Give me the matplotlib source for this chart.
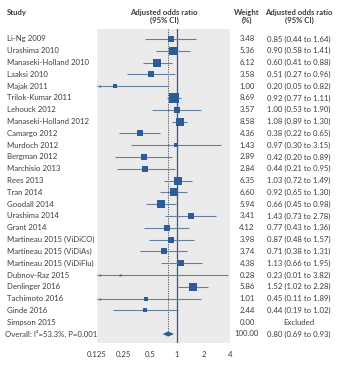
import matplotlib
matplotlib.use("Agg")
import matplotlib.pyplot as plt
import numpy as np

studies = ["Li-Ng 2009", "Urashima 2010", "Manaseki-Holland 2010", "Laaksi 2010",
           "Majak 2011", "Trilok-Kumar 2011", "Lehouck 2012", "Manaseki-Holland 2012",
           "Camargo 2012", "Murdoch 2012", "Bergman 2012", "Marchisio 2013",
           "Rees 2013", "Tran 2014", "Goodall 2014", "Urashima 2014", "Grant 2014",
           "Martineau 2015 (ViDiCO)", "Martineau 2015 (ViDiAs)", "Martineau 2015 (ViDiFlu)",
           "Dubnov-Raz 2015", "Denlinger 2016", "Tachimoto 2016", "Ginde 2016", "Simpson 2015"]
weights = [3.48, 5.36, 6.12, 3.58, 1.00, 8.69, 3.57, 8.58, 4.36, 1.43, 2.89, 2.84,
           6.35, 6.60, 5.94, 3.41, 4.12, 3.98, 3.74, 4.38, 0.28, 5.86, 1.01, 2.44, 0.00]
odds = [0.85, 0.90, 0.60, 0.51, 0.20, 0.92, 1.00, 1.08, 0.38, 0.97, 0.42, 0.44,
        1.03, 0.92, 0.66, 1.43, 0.77, 0.87, 0.71, 1.13, 0.23, 1.52, 0.45, 0.44, None]
lower = [0.44, 0.58, 0.41, 0.27, 0.05, 0.77, 0.53, 0.89, 0.22, 0.30, 0.20, 0.21,
         0.72, 0.65, 0.45, 0.73, 0.43, 0.48, 0.38, 0.66, 0.01, 1.02, 0.11, 0.19, None]
upper = [1.64, 1.41, 0.88, 0.96, 0.82, 1.11, 1.90, 1.30, 0.65, 3.15, 0.89, 0.95,
         1.49, 1.30, 0.98, 2.78, 1.36, 1.57, 1.31, 1.95, 3.82, 2.28, 1.89, 1.02, None]
overall_label = "Overall: I\u00b2=53.3%, P=0.001"
overall_weight = 100.00
overall_or, overall_lo, overall_hi = 0.80, 0.69, 0.93
xticks = [0.125, 0.25, 0.5, 1, 2, 4]
xtick_labels = ["0.125", "0.25", "0.5", "1", "2", "4"]

W, H = 350, 365
fig = plt.figure(figsize=(W / 100, H / 100), dpi=100)
plt.rcParams['font.family'] = ['Lato', 'DejaVu Sans']
TXT = "#3c3c3c"
BLUE = "#2c5b98"
LINEC = "#66809f"
FS = 5.6

ax_l, ax_r, ax_t, ax_b = 97, 230, 29, 343
ax = fig.add_axes([ax_l / W, 1 - ax_b / H, (ax_r - ax_l) / W, (ax_b - ax_t) / H])
ax.set_facecolor("#ebebeb")
ax.set_xscale("log", base=2)
xmin, xmax = 0.125, 4
ax.set_xlim(xmin, xmax)
n = len(studies)
row0, rowstep = 39, 11.8
ytop = -(row0 - ax_t) / rowstep
ybot = n + (ax_b - (row0 + n * rowstep)) / rowstep
ax.set_ylim(ybot, ytop)
for s in ax.spines.values():
    s.set_visible(False)
ax.set_yticks([])
ax.set_xticks(xticks)
ax.set_xticklabels(xtick_labels, fontsize=FS, color=TXT)
ax.tick_params(axis='x', length=0, pad=6)
ax.minorticks_off()

# reference lines
ax.axvline(1, color=BLUE, lw=0.9, zorder=2)
ax.plot([overall_or, overall_or], [ytop, n], color="#555555", lw=0.7,
        linestyle=(0, (1.2, 1.2)), zorder=2)

for i in range(n):
    if odds[i] is None:
        continue
    lo = max(lower[i], xmin)
    hi = min(upper[i], xmax)
    ax.plot([lo, hi], [i, i], color=LINEC, lw=0.8, zorder=3, solid_capstyle='butt')
    if lower[i] < xmin:
        ax.plot([xmin * 1.04], [i], marker='<', color=LINEC, markersize=2.2,
                markeredgewidth=0, zorder=3, clip_on=False)
    ms = 2.2 * np.sqrt(weights[i])
    ax.plot([odds[i]], [i], marker='s', color=BLUE, markersize=max(ms, 1.4),
            markeredgewidth=0, zorder=4)

# overall diamond
yo = n
dh = 0.22
ax.fill([overall_lo, overall_or, overall_hi, overall_or],
        [yo, yo - dh, yo, yo + dh], color=BLUE, zorder=4, lw=0)

def ax_x(px):
    return (px - ax_l) / (ax_r - ax_l)

tr = ax.get_yaxis_transform()
for i in range(n):
    ax.text(ax_x(7), i, studies[i], transform=tr, fontsize=FS, color=TXT,
            ha='left', va='center', clip_on=False)
    ax.text(ax_x(247), i, f"{weights[i]:.2f}", transform=tr, fontsize=FS, color=TXT,
            ha='center', va='center', clip_on=False)
    if odds[i] is None:
        s = "Excluded"
    else:
        s = f"{odds[i]:.2f} ({lower[i]:.2f} to {upper[i]:.2f})"
    ax.text(ax_x(299), i, s, transform=tr, fontsize=FS, color=TXT,
            ha='center', va='center', clip_on=False)

ax.text(ax_x(5), n, overall_label, transform=tr, fontsize=FS, color=TXT,
        ha='left', va='center', clip_on=False)
ax.text(ax_x(247), n, f"{overall_weight:.2f}", transform=tr, fontsize=FS, color=TXT,
        ha='center', va='center', clip_on=False)
ax.text(ax_x(299), n, f"{overall_or:.2f} ({overall_lo:.2f} to {overall_hi:.2f})",
        transform=tr, fontsize=FS, color=TXT, ha='center', va='center', clip_on=False)

# headers
def fy(py):
    return 1 - py / H

fig.text(7 / W, fy(13), "Study", fontsize=FS, color=TXT, fontweight='bold',
         ha='left', va='center')
fig.text(164 / W, fy(16.5), "Adjusted odds ratio\n(95% CI)", fontsize=FS, color=TXT,
         fontweight='bold', ha='center', va='center', linespacing=1.15)
fig.text(247 / W, fy(16.5), "Weight\n(%)", fontsize=FS, color=TXT,
         fontweight='bold', ha='center', va='center', linespacing=1.15)
fig.text(299 / W, fy(16.5), "Adjusted odds ratio\n(95% CI)", fontsize=FS, color=TXT,
         fontweight='bold', ha='center', va='center', linespacing=1.15)

fig.savefig("out.png", dpi=100, facecolor="white")
